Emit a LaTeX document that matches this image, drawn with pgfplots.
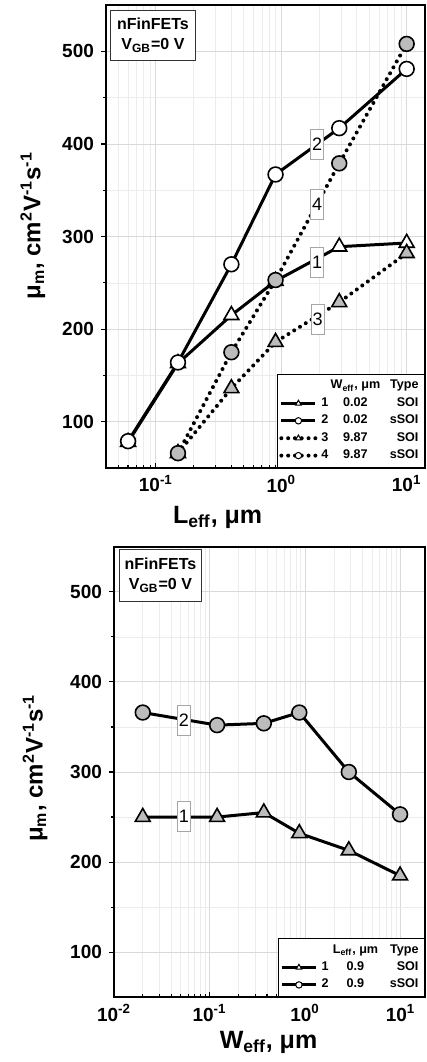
\documentclass[border=0pt]{standalone}
\usepackage{fontspec}
\setmainfont{Liberation Sans}
\usepackage{pgfplots}
\pgfplotsset{compat=1.18}
\definecolor{mgray}{RGB}{188,188,188}
\newcommand{\lgrow}[3]{\makebox[5pt][l]{#1}\makebox[24pt][c]{#2}\makebox[19.5pt][r]{#3}}
\tikzset{numlab/.style={draw=gray!70, fill=white, line width=0.4pt, inner xsep=0.7pt, inner ysep=0pt, minimum height=15pt, font=\fontsize{9}{9}\selectfont},
infobox/.style={draw=black!80, fill=white, line width=0.5pt, align=center, inner sep=1pt, font=\fontsize{8}{10}\bfseries}}
\pgfplotsset{
  common/.style={
    scale only axis, ymin=50, ymax=550,
    ytick={100,200,300,400,500}, minor ytick={150,250,350,450},
    grid=both,
    major grid style={gray!30, line width=0.4pt},
    minor grid style={gray!15, line width=0.3pt},
    axis line style={line width=1pt},
    tick style={black, line width=0.6pt},
    major tick length=2.5pt, minor tick length=1.5pt,
    tick pos=left, xtick align=inside, ytick align=outside,
    /pgf/number format/assume math mode=true,
    ticklabel style={font=\fontsize{9.5}{10}\bfseries},
    legend style={at={(rel axis cs:1,0)}, anchor=south east, draw=black, line width=0.5pt,
      fill=white, font=\fontsize{6.3}{7}\bfseries, inner sep=1pt, row sep=-1.2pt, cells={anchor=west}},
    legend image post style={mark size=1.6pt, mark options={fill=white, solid, line width=0.5pt}},
  },
  s1/.style={black, line width=1.5pt, mark=triangle*, mark size=4.3pt, mark options={fill=white, draw=black, line width=0.8pt, solid}},
  s2/.style={black, line width=1.5pt, mark=*, mark size=3.7pt, mark options={fill=white, draw=black, line width=0.8pt, solid}},
  s3/.style={black, line width=2pt, line cap=round, dash pattern=on 0pt off 3.4pt, mark=triangle*, mark size=4.3pt, mark options={fill=mgray, draw=black, line width=0.8pt, solid}},
  s4/.style={black, line width=2pt, line cap=round, dash pattern=on 0pt off 3.4pt, mark=*, mark size=3.7pt, mark options={fill=mgray, draw=black, line width=0.8pt, solid}},
}
\begin{document}
\begin{tikzpicture}
\useasboundingbox (0,0) rectangle (213.5pt,-531pt);
% ---------------- top panel ----------------
\begin{semilogxaxis}[common,
  at={(53pt,-2.5pt)}, anchor=north west, width=159.5pt, height=231.5pt,
  xmin=0.04, xmax=14,
  xtick={0.1,1,10}, xticklabels={10\textsuperscript{-1},10\textsuperscript{0},10\textsuperscript{1}},
  minor xtick={0.05,0.06,0.07,0.08,0.09,0.2,0.3,0.4,0.5,0.6,0.7,0.8,0.9,2,3,4,5,6,7,8,9},
  xlabel={L\textsubscript{eff}, μm},
  ylabel={μ\textsubscript{m}, cm\textsuperscript{2}V\textsuperscript{-1}s\textsuperscript{-1}},
  every axis x label/.style={at={(rel axis cs:0.35,-0.119)}, anchor=base, font=\fontsize{12.5}{14}\bfseries},
  every axis y label/.style={at={(rel axis cs:-0.229,0.523)}, anchor=center, rotate=90, font=\fontsize{12}{14}\bfseries},
]
\addlegendimage{empty legend}
\addlegendentry{\lgrow{}{W\textsubscript{eff}, μm}{Type}}
\addplot[s1] coordinates {(0.06,78)(0.15,163)(0.4,215)(0.9,252)(2.9,289)(10,293)};
\addlegendentry{\lgrow{1}{0.02}{SOI}}
\addplot[s2] coordinates {(0.06,79)(0.15,164)(0.4,270)(0.9,367)(2.9,417)(10,481)};
\addlegendentry{\lgrow{2}{0.02}{sSOI}}
\addplot[s3] coordinates {(0.15,66)(0.4,136)(0.9,186)(2.9,229)(10,282)};
\addlegendentry{\lgrow{3}{9.87}{SOI}}
\addplot[s4] coordinates {(0.15,66)(0.4,175)(0.9,253)(2.9,379)(10,508)};
\addlegendentry{\lgrow{4}{9.87}{sSOI}}
\node[numlab] at (axis cs:1.93,400) {2};
\node[numlab] at (axis cs:1.93,335) {4};
\node[numlab] at (axis cs:1.93,272) {1};
\node[numlab] at (axis cs:1.95,211) {3};
\node[infobox, anchor=north west, minimum width=42.5pt, minimum height=25pt] at ([xshift=2pt,yshift=-2.5pt]rel axis cs:0,1) {nFinFETs\\V\textsubscript{GB}=0 V};
\end{semilogxaxis}
% ---------------- bottom panel ----------------
\begin{semilogxaxis}[common,
  at={(57pt,-273.35pt)}, anchor=north west, width=155.5pt, height=225.3pt,
  xmin=0.01, xmax=18,
  xtick={0.01,0.1,1,10}, xticklabels={10\textsuperscript{-2},10\textsuperscript{-1},10\textsuperscript{0},10\textsuperscript{1}},
  minor xtick={0.02,0.03,0.04,0.05,0.06,0.07,0.08,0.09,0.2,0.3,0.4,0.5,0.6,0.7,0.8,0.9,2,3,4,5,6,7,8,9},
  xlabel={W\textsubscript{eff}, μm},
  ylabel={μ\textsubscript{m}, cm\textsuperscript{2}V\textsuperscript{-1}s\textsuperscript{-1}},
  every axis x label/.style={at={(rel axis cs:0.497,-0.113)}, anchor=base, font=\fontsize{12.5}{14}\bfseries},
  every axis y label/.style={at={(rel axis cs:-0.254,0.509)}, anchor=center, rotate=90, font=\fontsize{12}{14}\bfseries},
]
\addlegendimage{empty legend}
\addlegendentry{\lgrow{}{L\textsubscript{eff}, μm}{Type}}
\addplot[s1, mark options={fill=mgray, draw=black, line width=0.8pt, solid}] coordinates {(0.02,250)(0.12,250)(0.37,255)(0.87,232)(2.87,213)(9.87,185)};
\addlegendentry{\lgrow{1}{0.9}{SOI}}
\addplot[s2, mark options={fill=mgray, draw=black, line width=0.8pt, solid}] coordinates {(0.02,366)(0.12,352)(0.37,354)(0.87,366)(2.87,300)(9.87,253)};
\addlegendentry{\lgrow{2}{0.9}{sSOI}}
\node[numlab] at (axis cs:0.054,357) {2};
\node[numlab] at (axis cs:0.054,251) {1};
\node[infobox, anchor=north west, minimum width=41pt, minimum height=26pt] at ([xshift=2.5pt,yshift=-1pt]rel axis cs:0,1) {nFinFETs\\V\textsubscript{GB}=0 V};
\end{semilogxaxis}
\end{tikzpicture}
\end{document}
